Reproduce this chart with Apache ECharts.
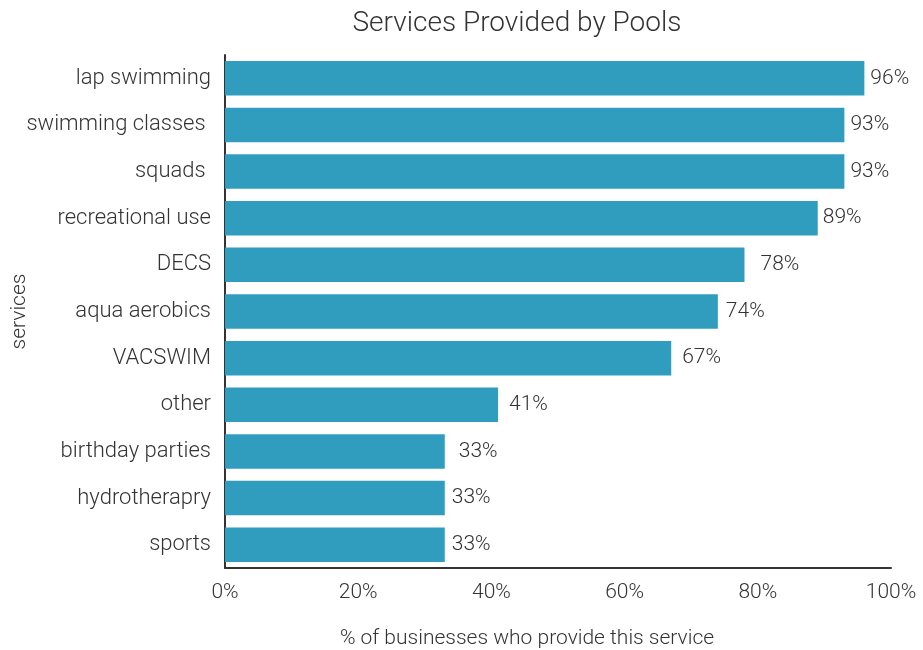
<!DOCTYPE html>
<html>
<head>
<meta charset="utf-8">
<title>Services Provided by Pools</title>
<script src="https://cdn.jsdelivr.net/npm/echarts@6/dist/echarts.min.js"></script>
<style>
  html, body { margin: 0; padding: 0; background: #ffffff; }
  #chart { width: 923px; height: 650px; }
</style>
</head>
<body>
<div id="chart"></div>
<script>
// Services offered, top to bottom as drawn
var services = [
  'lap swimming',
  'swimming classes ',
  'squads ',
  'recreational use',
  'DECS',
  'aqua aerobics',
  'VACSWIM',
  'other',
  'birthday parties',
  'hydrotherapry',
  'sports'
];
// Share of businesses providing each service (%)
var shares = [96, 93, 93, 89, 78, 74, 67, 41, 33, 33, 33];
// Axis ticks (%)
var xTicks = [0, 20, 40, 60, 80, 100];

// Gap between each bar end and its value label (px)
var labelGaps = [6, 6, 6, 5, 16, 8, 11, 11, 14, 7, 7];

var FONT = 'Roboto, "Helvetica Neue", Helvetica, Arial, sans-serif';
var TEXT = '#333333';

var chart = echarts.init(document.getElementById('chart'), null, { renderer: 'canvas' });

// Category axis is inverted so the first entry sits at the top
var barData = shares.map(function (v, i) {
  return { value: v, label: { distance: labelGaps[i] } };
});

chart.setOption({
  animation: false,
  backgroundColor: '#ffffff',
  title: {
    text: 'Services Provided by Pools',
    left: 512,
    top: 5,
    textAlign: 'center',
    textStyle: { fontFamily: FONT, fontWeight: 300, fontSize: 28, color: TEXT }
  },
  grid: {
    left: 225, right: 32, top: 55, bottom: 82,
    containLabel: false,
    outerBoundsMode: 'none'
  },
  xAxis: {
    type: 'value',
    min: xTicks[0],
    max: xTicks[xTicks.length - 1],
    interval: xTicks[1] - xTicks[0],
    name: '% of businesses who provide this service',
    nameLocation: 'middle',
    nameGap: 60,
    nameMoveOverlap: false,
    nameTextStyle: { fontFamily: FONT, fontWeight: 300, fontSize: 21, color: TEXT, padding: [0, 62, 0, 0] },
    axisLine: { show: true, lineStyle: { color: '#333333', width: 2 } },
    axisTick: { show: false },
    splitLine: { show: false },
    axisLabel: {
      formatter: '{value}%',
      margin: 14,
      fontFamily: FONT, fontWeight: 300, fontSize: 21, color: TEXT
    }
  },
  yAxis: {
    type: 'category',
    data: services,
    inverse: true,
    name: 'services',
    nameLocation: 'middle',
    nameGap: 195,
    nameRotate: 90,
    nameMoveOverlap: false,
    nameTextStyle: { fontFamily: FONT, fontWeight: 300, fontSize: 21, color: TEXT },
    axisLine: { show: true, lineStyle: { color: '#333333', width: 2 } },
    axisTick: { show: false },
    axisLabel: {
      margin: 14,
      fontFamily: FONT, fontWeight: 300, fontSize: 22, color: TEXT
    }
  },
  series: [{
    type: 'bar',
    data: barData,
    barCategoryGap: '26%',
    itemStyle: { color: '#309dbe' },
    label: {
      show: true,
      position: 'right',
      formatter: '{c}%',
      fontFamily: FONT, fontWeight: 300, fontSize: 21, color: TEXT
    }
  }]
});
</script>
</body>
</html>
